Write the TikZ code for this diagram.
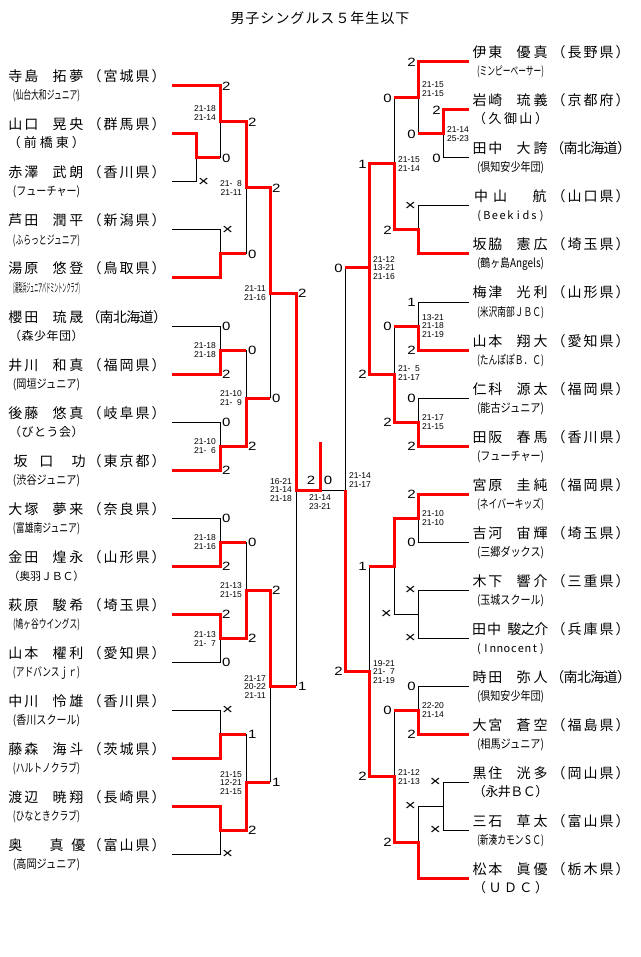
\documentclass[tikz,border=0pt]{standalone}
\usepackage{fontspec}
\usepackage{graphicx}
\setmainfont{Liberation Sans}
\newfontfamily\jp{Noto Sans CJK JP}
\newfontfamily\dgfont[FakeStretch=1.25]{Liberation Sans}
\makeatletter
\def\bspr#1#2{\def\bspr@p{#1}\bspr@x#2\relax}
\def\bspr@x#1{\ifx\relax#1\else\makebox[\bspr@p][c]{#1}\expandafter\bspr@x\fi}
\makeatother
\newcount\nid
\newcommand\newid{\global\advance\nid by 1\relax}
\tikzset{
 bl/.style={draw=black, line width=1pt},
 rd/.style={draw=red, line width=3pt, line join=miter},
 nm/.style={anchor=base west, inner sep=0pt, font=\jp\fontsize{14}{14}\selectfont},
 cl/.style={anchor=base, inner sep=0pt},
 dg/.style={inner sep=0pt, font=\dgfont\fontsize{12}{12}\selectfont},
 sc/.style={inner sep=0pt, font=\fontsize{8.5}{8.5}\selectfont},
 ttl/.style={anchor=base, inner sep=0pt, font=\jp\fontsize{14}{14}\selectfont},
}
% name: X y surname spitch goff given gpitch
\newcommand\brNx[7]{%
  \newid\node[nm] (n\the\nid) at ({#1+7.3},{#2-4}) {\bspr{#4pt}{#3}};
  \newid\node[nm] (n\the\nid) at ({#1+7.3+#5},{#2-4}) {\bspr{#7pt}{#6}};}
\newcommand\brN[4]{\brNx{#1}{#2}{#3}{16}{43.5}{#4}{17}}
% info: X y pref ppitch club
\newcommand\brI[5]{%
  \newid\node[nm] (n\the\nid) at ({#1+86.5},{#2-4}) {\bspr{#4pt}{#3}};
  \newid\node[cl] (n\the\nid) at ({#1+46.5},{#2+14}) {#5};}
\newcommand\clC[1]{{\jp\fontsize{12}{12}\selectfont\resizebox{67pt}{\height}{#1}}}
\newcommand\clS[3]{{\jp\fontsize{#1}{#1}\selectfont\bspr{#2pt}{#3}}}
\newcommand\clL[2]{{\jp\fontsize{11}{11}\selectfont\bspr{#1pt}{#2}}}
\newcommand\dgL[3]{\newid\node[dg,anchor=west] (n\the\nid) at ({#1+2},#2) {#3};}
\newcommand\dgR[3]{\newid\node[dg,anchor=east] (n\the\nid) at ({#1-2},#2) {#3};}
\newcommand\scL[3]{\newid\node[sc,anchor=east,align=right] (n\the\nid) at ({#1-4},#2) {#3};}
\newcommand\scR[3]{\newid\node[sc,anchor=west,align=left] (n\the\nid) at ({#1+4},#2) {#3};}
\newcommand\xx{{\fontsize{15}{15}\selectfont ×}}
\newcommand\fs{\hphantom{0}}
\begin{document}
\begin{tikzpicture}[x=1pt,y=-1pt]
\fill[white] (0,0) rectangle (640,957);
\useasboundingbox (0,0) rectangle (640,957);
\node[ttl] (title) at (320,23.5) {\bspr{15pt}{男子シングルス５年生以下}};

% ---------- left black ----------
\draw[bl] (172,182)--(196,182)--(196,158);
\draw[bl] (220,122)--(220,158);
\draw[bl] (172,230)--(220,230)--(220,254);
\draw[bl] (246,188)--(246,254);
\draw[bl] (172,326)--(220,326)--(220,350);
\draw[bl] (172,422)--(220,422)--(220,446);
\draw[bl] (246,350)--(246,398);
\draw[bl] (270,293)--(270,398);
\draw[bl] (172,518)--(220,518)--(220,542);
\draw[bl] (172,662)--(220,662)--(220,638);
\draw[bl] (246,542)--(246,590);
\draw[bl] (172,710)--(220,710)--(220,734);
\draw[bl] (172,854)--(220,854)--(220,830);
\draw[bl] (246,734)--(246,782);
\draw[bl] (270,686)--(270,782);
\draw[bl] (296,490)--(296,686);
% ---------- right black ----------
\draw[bl] (469,158)--(443,158)--(443,134);
\draw[bl] (418,98)--(418,134);
\draw[bl] (469,206)--(418,206)--(418,230);
\draw[bl] (394,98)--(394,164);
\draw[bl] (469,302)--(418,302)--(418,326);
\draw[bl] (469,398)--(418,398)--(418,422);
\draw[bl] (394,326)--(394,374);
\draw[bl] (345,268)--(345,490)--(320,490);
\draw[bl] (469,542)--(418,542)--(418,518);
\draw[bl] (469,590)--(418,590)--(418,638)--(469,638);
\draw[bl] (418,614)--(394,614)--(394,566);
\draw[bl] (369,566)--(369,671);
\draw[bl] (469,686)--(418,686)--(418,710);
\draw[bl] (469,782)--(443,782)--(443,830)--(469,830);
\draw[bl] (443,806)--(418,806)--(418,842);
\draw[bl] (394,710)--(394,776);

% ---------- left red ----------
\draw[rd] (172,86)--(220,86)--(220,122)--(246,122)--(246,188)--(270,188)--(270,293)--(296,293)--(296,490)--(320,490)--(320,442);
\draw[rd] (172,134)--(196,134)--(196,158)--(220,158);
\draw[rd] (172,278)--(220,278)--(220,254)--(246,254);
\draw[rd] (172,374)--(220,374)--(220,350)--(246,350);
\draw[rd] (172,470)--(220,470)--(220,446)--(246,446)--(246,398)--(270,398);
\draw[rd] (172,566)--(220,566)--(220,542)--(246,542);
\draw[rd] (172,614)--(220,614)--(220,638)--(246,638)--(246,590)--(270,590)--(270,686)--(296,686);
\draw[rd] (172,758)--(220,758)--(220,734)--(246,734);
\draw[rd] (172,806)--(220,806)--(220,830)--(246,830)--(246,782)--(270,782);
% ---------- right red ----------
\draw[rd] (469,62)--(418,62)--(418,98)--(394,98);
\draw[rd] (469,110)--(443,110)--(443,134)--(418,134);
\draw[rd] (469,254)--(418,254)--(418,230)--(394,230)--(394,164)--(369,164)--(369,268);
\draw[rd] (469,350)--(418,350)--(418,326)--(394,326);
\draw[rd] (469,446)--(418,446)--(418,422)--(394,422)--(394,374)--(369,374)--(369,268)--(345,268);
\draw[rd] (469,494)--(418,494)--(418,518)--(394,518)--(394,566)--(369,566);
\draw[rd] (469,734)--(418,734)--(418,710)--(394,710);
\draw[rd] (469,878)--(418,878)--(418,842)--(394,842)--(394,776)--(369,776)--(369,671)--(345,671)--(345,490);

% ---------- left digits ----------
\dgL{220}{86}{2}\dgL{196}{182}{\xx}\dgL{220}{158}{0}\dgL{246}{122}{2}
\dgL{220}{230}{\xx}\dgL{246}{254}{0}\dgL{270}{188}{2}
\dgL{220}{326}{0}\dgL{220}{374}{2}\dgL{246}{350}{0}
\dgL{220}{422}{0}\dgL{220}{470}{2}\dgL{246}{446}{2}\dgL{270}{398}{0}
\dgL{296}{293}{2}
\dgL{220}{518}{0}\dgL{220}{566}{2}\dgL{246}{542}{0}
\dgL{220}{614}{2}\dgL{220}{662}{0}\dgL{246}{638}{2}\dgL{270}{590}{2}
\dgL{220}{710}{\xx}\dgL{246}{734}{1}\dgL{246}{830}{2}\dgL{220}{854}{\xx}
\dgL{270}{782}{1}\dgL{296}{686}{1}
% ---------- right digits ----------
\dgR{418}{62}{2}\dgR{443}{110}{2}\dgR{443}{158}{0}\dgR{418}{134}{0}
\dgR{394}{98}{0}\dgR{418}{206}{\xx}\dgR{394}{230}{2}\dgR{369}{164}{1}
\dgR{418}{302}{1}\dgR{418}{350}{2}\dgR{394}{326}{0}
\dgR{418}{398}{0}\dgR{418}{446}{2}\dgR{394}{422}{2}\dgR{369}{374}{2}
\dgR{345}{268}{0}
\dgR{418}{494}{2}\dgR{418}{542}{0}\dgR{418}{590}{\xx}\dgR{418}{638}{\xx}
\dgR{394}{614}{\xx}\dgR{369}{566}{1}
\dgR{418}{686}{0}\dgR{418}{734}{2}\dgR{394}{710}{0}
\dgR{443}{782}{\xx}\dgR{443}{830}{\xx}\dgR{418}{806}{\xx}
\dgR{394}{842}{2}\dgR{369}{776}{2}\dgR{345}{671}{2}
% final
\node[dg] (fl) at (311,480) {2};
\node[dg] (fr) at (328,480) {0};

% ---------- scores ----------
\scL{220}{113}{21-18\\21-14}
\scL{246}{188}{21-\fs8\\21-11}
\scL{270}{293}{21-11\\21-16}
\scL{220}{350}{21-18\\21-18}
\scL{220}{446}{21-10\\21-\fs6}
\scL{246}{398}{21-10\\21-\fs9}
\scL{296}{490}{16-21\\21-14\\21-18}
\scL{220}{542}{21-18\\21-16}
\scL{246}{590}{21-13\\21-15}
\scL{220}{639}{21-13\\21-\fs7}
\scL{270}{687}{21-17\\20-22\\21-11}
\scL{246}{783}{21-15\\12-21\\21-15}
\scR{418}{89}{21-15\\21-15}
\scR{443}{134}{21-14\\25-23}
\scR{394}{164}{21-15\\21-14}
\scR{369}{268}{21-12\\13-21\\21-16}
\scR{418}{326}{13-21\\21-18\\21-19}
\scR{418}{422}{21-17\\21-15}
\scR{394}{373}{21-\fs5\\21-17}
\scR{345}{480}{21-14\\21-17}
\scR{418}{518}{21-10\\21-10}
\scR{369}{672}{19-21\\21-\fs7\\21-19}
\scR{418}{710}{22-20\\21-14}
\scR{394}{777}{21-12\\21-13}
\node[sc,align=center] (fsc) at (320,502) {21-14\\23-21};

% ---------- left players ----------
\brN{0}{86}{寺島}{拓夢}\brI{0}{86}{（宮城県）}{16}{\clC{(仙台大和ジュニア)}}
\brN{0}{134}{山口}{晃央}\brI{0}{134}{（群馬県）}{16}{\clS{13}{16}{（前橋東）}}
\brN{0}{182}{赤澤}{武朗}\brI{0}{182}{（香川県）}{16}{\clC{(フューチャー)}}
\brN{0}{230}{芦田}{潤平}\brI{0}{230}{（新潟県）}{16}{\clC{(ふらっとジュニア)}}
\brN{0}{278}{湯原}{悠登}\brI{0}{278}{（鳥取県）}{16}{\clC{(湯梨浜ジュニアバドミントンクラブ)}}
\brN{0}{326}{櫻田}{琉晟}\brI{0}{326}{（南北海道）}{13.33}{\clS{12}{12.5}{（森少年団）}}
\brN{0}{374}{井川}{和真}\brI{0}{374}{（福岡県）}{16}{\clC{(岡垣ジュニア)}}
\brN{0}{422}{後藤}{悠真}\brI{0}{422}{（岐阜県）}{16}{\clS{12}{12.5}{（びとう会）}}
\brNx{0}{470}{坂口}{26}{62.5}{功}{17}\brI{0}{470}{（東京都）}{16}{\clC{(渋谷ジュニア)}}
\brN{0}{518}{大塚}{夢来}\brI{0}{518}{（奈良県）}{16}{\clC{(富雄南ジュニア)}}
\brN{0}{566}{金田}{煌永}\brI{0}{566}{（山形県）}{16}{\clS{11}{10.8}{（奥羽ＪＢＣ）}}
\brN{0}{614}{萩原}{駿希}\brI{0}{614}{（埼玉県）}{16}{\clC{(鳩ヶ谷ウイングス)}}
\brN{0}{662}{山本}{櫂利}\brI{0}{662}{（愛知県）}{16}{\clC{(アドバンスｊｒ)}}
\brN{0}{710}{中川}{怜雄}\brI{0}{710}{（香川県）}{16}{\clC{(香川スクール)}}
\brN{0}{758}{藤森}{海斗}\brI{0}{758}{（茨城県）}{16}{\clC{(ハルトノクラブ)}}
\brN{0}{806}{渡辺}{暁翔}\brI{0}{806}{（長崎県）}{16}{\clC{(ひなときクラブ)}}
\brNx{0}{854}{奥}{16}{38}{真優}{22}\brI{0}{854}{（富山県）}{16}{\clC{(高岡ジュニア)}}
% ---------- right players ----------
\brN{464}{62}{伊東}{優真}\brI{464}{62}{（長野県）}{16}{\clC{(ミンピーベーサー)}}
\brN{464}{110}{岩崎}{琉義}\brI{464}{110}{（京都府）}{16}{\clS{13}{15.5}{（久御山）}}
\brN{464}{158}{田中}{大誇}\brI{464}{158}{（南北海道）}{13.33}{\clC{(倶知安少年団)}}
\brNx{464}{206}{中山}{19}{59.5}{航}{17}\brI{464}{206}{（山口県）}{16}{\clL{7.8}{(Beekids)}}
\brN{464}{254}{坂脇}{憲広}\brI{464}{254}{（埼玉県）}{16}{\clC{(鶴ヶ島Angels)}}
\brN{464}{302}{梅津}{光利}\brI{464}{302}{（山形県）}{16}{\clC{(米沢南部ＪＢＣ)}}
\brN{464}{350}{山本}{翔大}\brI{464}{350}{（愛知県）}{16}{\clC{(たんぽぽＢ．Ｃ)}}
\brN{464}{398}{仁科}{源太}\brI{464}{398}{（福岡県）}{16}{\clC{(能古ジュニア)}}
\brN{464}{446}{田阪}{春馬}\brI{464}{446}{（香川県）}{16}{\clC{(フューチャー)}}
\brN{464}{494}{宮原}{圭純}\brI{464}{494}{（福岡県）}{16}{\clC{(ネイバーキッズ)}}
\brN{464}{542}{吉河}{宙輝}\brI{464}{542}{（埼玉県）}{16}{\clC{(三郷ダックス)}}
\brN{464}{590}{木下}{響介}\brI{464}{590}{（三重県）}{16}{\clC{(玉城スクール)}}
\brNx{464}{638}{田中}{15}{36}{駿之介}{13.5}\brI{464}{638}{（兵庫県）}{16}{\clL{7}{(Innocent)}}
\brN{464}{686}{時田}{弥人}\brI{464}{686}{（南北海道）}{13.33}{\clC{(倶知安少年団)}}
\brN{464}{734}{大宮}{蒼空}\brI{464}{734}{（福島県）}{16}{\clC{(相馬ジュニア)}}
\brN{464}{782}{黒住}{洸多}\brI{464}{782}{（岡山県）}{16}{\clS{13}{12.5}{（永井ＢＣ）}}
\brN{464}{830}{三石}{草太}\brI{464}{830}{（富山県）}{16}{\clC{(新湊カモンＳＣ)}}
\brN{464}{878}{松本}{眞優}\brI{464}{878}{（栃木県）}{16}{\clS{13}{15.5}{（ＵＤＣ）}}
\end{tikzpicture}
\end{document}
